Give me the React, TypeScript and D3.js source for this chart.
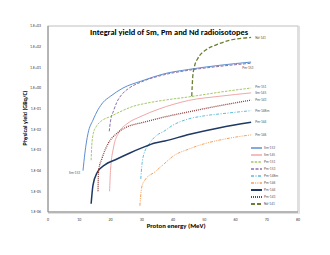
import React from 'react';
import * as d3 from 'd3';

// proton energy (MeV) and integral yield (GBq/C)
const sm153E = [11.2, 11.8, 12.8, 14.4, 16, 17.6, 20, 24, 30, 37, 45, 55, 65];
const sm153Y = [1e-4, 7e-4, 6.3e-3, 2.8e-2, 8.9e-2, 0.2, 0.4, 1, 2.2, 4.8, 7.9, 12.6, 18];

const sm145E = [19.7, 20, 21, 22.5, 25.6, 29.4, 35.8, 40, 45, 55, 65];
const sm145Y = [1e-5, 1e-4, 1.4e-3, 6.3e-3, 2e-2, 4e-2, 0.1, 0.16, 0.25, 0.4, 0.58];

const pm151E = [13.8, 14, 14.5, 15.5, 17, 20, 23, 27, 32, 37.4, 45, 55, 65];
const pm151Y = [3.2e-4, 1.6e-3, 6.3e-3, 1.4e-2, 2.5e-2, 4.2e-2, 0.07, 0.126, 0.19, 0.26, 0.37, 0.63, 1.0];

const pm153E = [19.6, 20, 21, 22, 24, 26, 30, 37, 45, 55, 65];
const pm153Y = [8e-3, 2.5e-2, 0.08, 0.2, 0.56, 1.0, 2.0, 4.3, 7.2, 11.2, 15.8];

const pm148mE = [29.7, 30, 30.5, 32.6, 35, 37, 40, 45, 50, 57, 65];
const pm148mY = [4e-5, 1.6e-4, 5e-4, 2.2e-3, 5.4e-3, 7.9e-3, 1.6e-2, 3.2e-2, 4.5e-2, 6e-2, 8e-2];

const pm146E = [29.4, 30, 31, 34.2, 37.4, 40, 45, 50, 57, 65];
const pm146Y = [2e-6, 1.6e-5, 3.5e-5, 8.7e-5, 2.3e-4, 5e-4, 1.1e-3, 2e-3, 3.5e-3, 5.4e-3];

const pm144E = [13.8, 14.4, 15.7, 18.2, 21.4, 26.2, 30, 34.2, 37.4, 45, 55, 65];
const pm144Y = [2.5e-6, 2e-5, 7.9e-5, 1.9e-4, 3.3e-4, 7.2e-4, 1.26e-3, 2.2e-3, 2.75e-3, 5.6e-3, 1.2e-2, 2.2e-2];

const pm143E = [16, 16.2, 17.3, 19.2, 22, 25, 30, 34, 37.4, 45, 55, 65];
const pm143Y = [1e-5, 1e-4, 4e-4, 2e-3, 6.3e-3, 1.26e-2, 2.1e-2, 3e-2, 4e-2, 7e-2, 0.14, 0.26];

const nd141E = [46, 46.3, 46.8, 48, 50.5, 54, 58, 65];
const nd141Y = [0.4, 3.2, 10, 28, 69, 126, 200, 280];

const yTicks = [1e3, 1e2, 1e1, 1e0, 1e-1, 1e-2, 1e-3, 1e-4, 1e-5, 1e-6];
const yTickLabels = ['1.E+03', '1.E+02', '1.E+01', '1.E+00', '1.E-01', '1.E-02', '1.E-03', '1.E-04', '1.E-05', '1.E-06'];
const xTicks = [0, 10, 20, 30, 40, 50, 60, 70, 80];

const series = [
  { name: 'Sm-153', e: sm153E, y: sm153Y, color: '#5b8fd0', width: 1, dash: null, label: 'start' },
  { name: 'Sm-145', e: sm145E, y: sm145Y, color: '#f0a8a8', width: 1, dash: null, label: 'end' },
  { name: 'Pm-151', e: pm151E, y: pm151Y, color: '#a6c868', width: 1, dash: '2.5,1.2', label: 'end' },
  { name: 'Pm-153', e: pm153E, y: pm153Y, color: '#8a72b0', width: 1, dash: '3,1.5', label: 'end' },
  { name: 'Pm-148m', e: pm148mE, y: pm148mY, color: '#5fbcd8', width: 1, dash: '3,1.5,1,1.5', label: 'end' },
  { name: 'Pm-146', e: pm146E, y: pm146Y, color: '#f5a05a', width: 1, dash: '3,1.2,1,1.2,1,1.2', label: 'end' },
  { name: 'Pm-144', e: pm144E, y: pm144Y, color: '#1f3864', width: 1.5, dash: null, label: 'end' },
  { name: 'Pm-143', e: pm143E, y: pm143Y, color: '#8b3a3a', width: 1.3, dash: '1,1', label: 'end' },
  { name: 'Nd-141', e: nd141E, y: nd141Y, color: '#6b7f33', width: 1.3, dash: '4,2', label: 'end' },
];

// label nudges next to each curve
const labelOffset = {
  'Sm-153': [-14, 3],
  'Sm-145': [4, 1],
  'Pm-151': [4, 0],
  'Pm-153': [-9, 6],
  'Pm-148m': [4, 1],
  'Pm-146': [4, 1],
  'Pm-144': [4, 1],
  'Pm-143': [4, 1],
  'Nd-141': [4, 2],
};

const App = () => {
  const W = 330, H = 255;
  const margin = { top: 26, right: 32, bottom: 43, left: 48 };
  const width = W - margin.left - margin.right;
  const height = H - margin.top - margin.bottom;

  const x = d3.scaleLinear().domain([0, 80]).range([0, width]);
  const y = d3.scaleLog().domain([1e-6, 1e3]).range([height, 0]);

  const line = d3
    .line<[number, number]>()
    .x((d) => x(d[0]))
    .y((d) => y(d[1]))
    .curve(d3.curveMonotoneX);

  const font = 'Calibri, Carlito, "Liberation Sans", Arial, sans-serif';

  return (
    <svg width={W} height={H} style={{ position: 'absolute', left: 0, top: 0, fontFamily: font }}>
      <rect x={0} y={0} width={W} height={H} fill="#fff" />
      <g transform={`translate(${margin.left},${margin.top})`}>
        <rect x={0} y={0} width={width} height={height} fill="none" stroke="#bfbfbf" strokeWidth={1} />
        <line x1={width + 1.5} x2={width + 1.5} y1={0} y2={height + 1.5} stroke="#e0e0e0" />
        <line x1={0} x2={width + 1.5} y1={height + 1.5} y2={height + 1.5} stroke="#e0e0e0" />
        <line x1={0} x2={0} y1={0} y2={height} stroke="#8c8c8c" />
        <line x1={0} x2={width} y1={height} y2={height} stroke="#8c8c8c" />

        {yTicks.map((t, i) => (
          <text key={t} x={-7} y={y(t) + 1.4} fontSize={4} textAnchor="end" fill="#404040">
            {yTickLabels[i]}
          </text>
        ))}
        {xTicks.map((t) => (
          <text key={t} x={x(t)} y={height + 9} fontSize={4} textAnchor="middle" fill="#404040">
            {t}
          </text>
        ))}

        {series.map((s) => (
          <path
            key={s.name}
            d={line(s.e.map((e, i) => [e, s.y[i]] as [number, number])) || ''}
            fill="none"
            stroke={s.color}
            strokeWidth={s.width}
            strokeDasharray={s.dash || undefined}
          />
        ))}

        {series.map((s) => {
          const idx = s.label === 'start' ? 0 : s.e.length - 1;
          const off = labelOffset[s.name];
          return (
            <text
              key={s.name + 'l'}
              x={x(s.e[idx]) + off[0]}
              y={y(s.y[idx]) + off[1]}
              fontSize={3.6}
              fill="#595959"
            >
              {s.name}
            </text>
          );
        })}

        {series.map((s, i) => (
          <g key={s.name + 'g'} transform={`translate(${width - 47},${122 + i * 7})`}>
            <line
              x1={0}
              x2={11}
              y1={0}
              y2={0}
              stroke={s.color}
              strokeWidth={s.width + 0.5}
              strokeDasharray={s.dash || undefined}
            />
            <text x={13} y={1.3} fontSize={3.6} fill="#595959">
              {s.name}
            </text>
          </g>
        ))}

        <text
          x={width / 2 - 4}
          y={9}
          fontSize={8}
          fontWeight="bold"
          textAnchor="middle"
          textLength={158}
          lengthAdjust="spacingAndGlyphs"
          fill="#000"
        >
          Integral yield of Sm, Pm and Nd radioisotopes
        </text>

        <text
          transform={`translate(${-21},${height / 2 - 1}) rotate(-90)`}
          fontSize={5}
          fontWeight="bold"
          textAnchor="middle"
          textLength={55}
          lengthAdjust="spacingAndGlyphs"
        >
          Physical yield (GBq/C)
        </text>
        <text
          x={x(41)}
          y={height + 15.5}
          fontSize={5}
          fontWeight="bold"
          textAnchor="middle"
          textLength={59}
          lengthAdjust="spacingAndGlyphs"
        >
          Proton energy (MeV)
        </text>
      </g>
    </svg>
  );
};

export default App;
